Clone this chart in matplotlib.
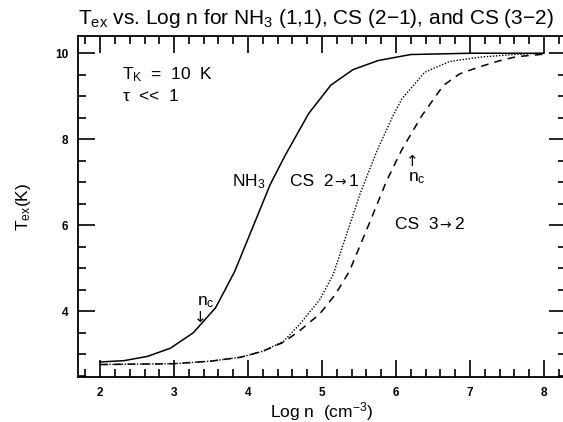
import matplotlib
matplotlib.use("Agg")
import matplotlib.pyplot as plt
from matplotlib.ticker import MultipleLocator

plt.rcParams['font.family'] = ['Liberation Sans', 'DejaVu Sans']
plt.rcParams['mathtext.fontset'] = 'custom'
plt.rcParams['mathtext.rm'] = 'Liberation Sans'
plt.rcParams['mathtext.it'] = 'Liberation Sans:italic'
plt.rcParams['mathtext.default'] = 'rm'

# NH3 (1,1)
nh3_logn = [2.0, 2.32, 2.64, 2.95, 3.26, 3.56, 3.69, 3.82, 4.30, 4.50, 4.82, 5.12, 5.42, 5.76, 6.01, 6.20, 7.0, 8.0]
nh3_tex = [2.82, 2.85, 2.95, 3.14, 3.50, 4.08, 4.50, 4.93, 6.95, 7.62, 8.60, 9.26, 9.62, 9.83, 9.91, 9.97, 10.0, 10.0]

# CS (2-1)
cs21_logn = [2.0, 3.0, 3.5, 3.9, 4.2, 4.48, 4.70, 4.97, 5.15, 5.51, 5.74, 5.96, 6.08, 6.39, 6.73, 7.14, 7.59, 8.0]
cs21_tex = [2.76, 2.78, 2.84, 2.93, 3.07, 3.30, 3.70, 4.27, 4.85, 6.71, 7.72, 8.55, 8.94, 9.56, 9.81, 9.91, 9.97, 10.0]

# CS (3-2)
cs32_logn = [2.0, 3.0, 3.5, 3.9, 4.2, 4.48, 4.70, 4.97, 5.18, 5.37, 5.65, 5.87, 6.08, 6.35, 6.64, 6.86, 7.14, 7.41, 7.63, 7.95, 8.0]
cs32_tex = [2.76, 2.78, 2.84, 2.93, 3.07, 3.28, 3.55, 3.94, 4.39, 4.93, 6.09, 7.02, 7.76, 8.55, 9.25, 9.52, 9.69, 9.83, 9.92, 9.97, 9.98]

x_ticks = [2, 3, 4, 5, 6, 7, 8]
y_ticks = [4, 6, 8, 10]

fig = plt.figure(figsize=(5.63, 4.22), dpi=100)
ax = fig.add_axes([0.1385, 0.1066, 0.867, 0.808])

ax.plot(nh3_logn, nh3_tex, color='black', lw=1.1, ls='-')
ax.plot(cs21_logn, cs21_tex, color='black', lw=1.0, ls=(0, (1, 1.2)))
ax.plot(cs32_logn, cs32_tex, color='black', lw=1.1, ls=(0, (5, 4)))

ax.set_xlim(1.7, 8.3)
ax.set_ylim(2.47, 10.40)
ax.set_xticks(x_ticks)
ax.set_yticks(y_ticks)
ax.set_xticklabels([str(v) for v in x_ticks])
ax.set_yticklabels([str(v) for v in y_ticks])
ax.xaxis.set_minor_locator(MultipleLocator(0.2))
ax.yaxis.set_minor_locator(MultipleLocator(0.5))
ax.tick_params(which='both', direction='in', top=True, right=True, width=1.2)
ax.tick_params(which='major', length=12, labelsize=8.5, pad=7)
ax.tick_params(which='minor', length=6)
for lab in ax.get_xticklabels() + ax.get_yticklabels():
    lab.set_fontweight('bold')
for sp in ax.spines.values():
    sp.set_linewidth(1.3)

ax.set_xlabel('Log n  (cm$^{-3}$)', fontsize=12.5, labelpad=1)
ax.set_ylabel('T$_{\\mathrm{ex}}$(K)', fontsize=12.5, labelpad=16)

fig.text(316/563, 1 - 18/422, 'T$_{\\mathrm{ex}}$ vs. Log n for NH$_{3}$ (1,1), CS (2\u22121), and CS (3\u22122)',
         ha='center', va='center', fontsize=15)

fs = 12.5
arrow_font = ['DejaVu Sans']
ax.text(2.30, 9.40, 'T$_{\\mathrm{K}}$  =  10  K', fontsize=fs, va='baseline')
ax.text(2.30, 8.88, '$\\tau$  <<  1', fontsize=fs, va='baseline')
ax.text(3.78, 6.91, 'NH$_{3}$', fontsize=fs, va='baseline')
ax.text(4.57, 6.91, 'CS  2', fontsize=fs, va='baseline')
ax.text(5.17, 6.91, '\u2192', fontsize=10, va='baseline', family=arrow_font)
ax.text(5.36, 6.91, '1', fontsize=fs, va='baseline')
ax.text(5.99, 5.91, 'CS  3', fontsize=fs, va='baseline')
ax.text(6.59, 5.91, '\u2192', fontsize=10, va='baseline', family=arrow_font)
ax.text(6.78, 5.91, '2', fontsize=fs, va='baseline')
ax.text(6.16, 7.02, 'n$_{\\mathrm{c}}$', fontsize=fs, va='baseline')
ax.text(6.22, 7.49, '\u2191', fontsize=11, ha='center', va='center', family=arrow_font)
ax.text(3.31, 4.14, 'n$_{\\mathrm{c}}$', fontsize=fs, va='baseline')
ax.text(3.36, 3.86, '\u2193', fontsize=11, ha='center', va='center', family=arrow_font)

fig.savefig('out.png', dpi=100)
